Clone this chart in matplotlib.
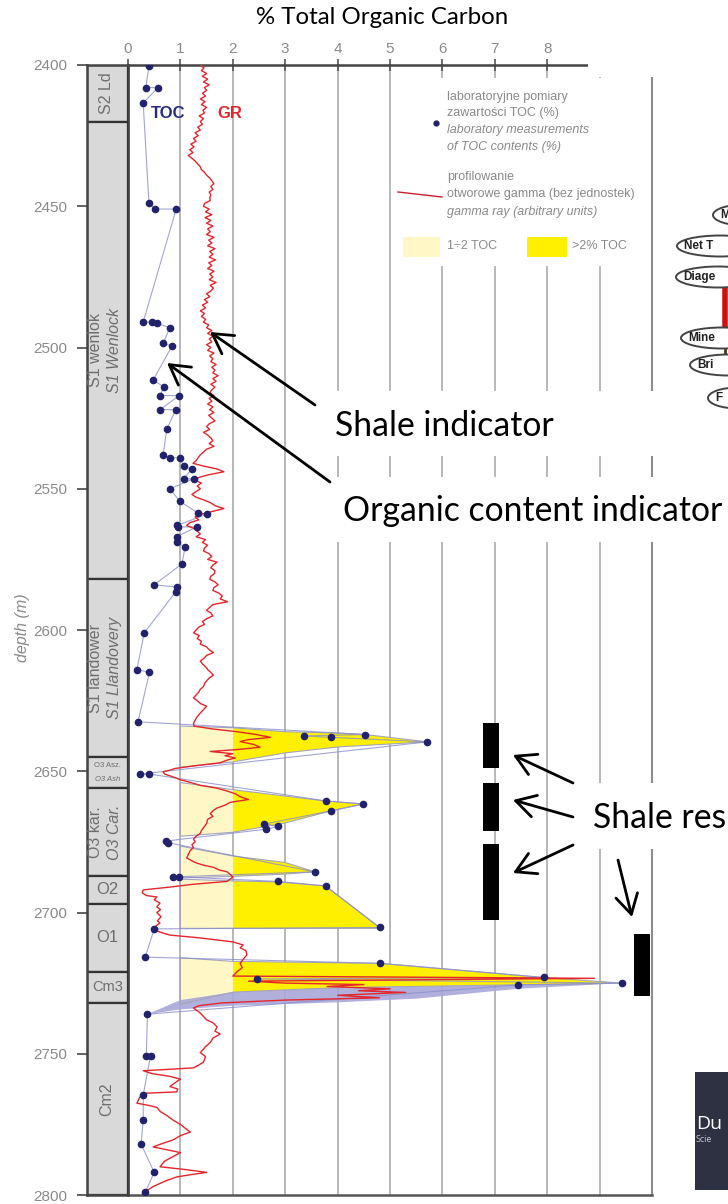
import matplotlib
matplotlib.use("Agg")
import matplotlib.pyplot as plt
from matplotlib.patches import Polygon, Rectangle, Ellipse, FancyArrowPatch
from matplotlib.lines import Line2D

W, H = 728, 1204

# laboratory TOC measurements: depth (m) and TOC (%)
toc_depth = [2400.4, 2408, 2408, 2413.5, 2449, 2451, 2451, 2491, 2491, 2491.4, 2493, 2498.5, 2499.5,
             2511.5, 2514, 2517, 2517, 2522, 2522, 2529, 2538, 2539, 2539, 2542, 2543, 2546.5, 2546.5,
             2550, 2554.5, 2558.6, 2559, 2563, 2563.5, 2563.5, 2567, 2569, 2570.6, 2576.6, 2584, 2584.8,
             2586.5, 2601, 2614, 2615, 2632.5, 2637, 2637.5, 2638, 2639.6, 2651, 2651, 2660.5, 2661.6,
             2664, 2668.7, 2669.5, 2670.5, 2674.7, 2675.3, 2685.6, 2687.4, 2687.4, 2689, 2690.6, 2705.3,
             2705.8, 2715.8, 2718, 2723, 2723.5, 2725, 2725.6, 2736, 2750.8, 2750.8, 2764.6, 2773.5, 2782,
             2792, 2799]
toc_value = [0.40, 0.34, 0.57, 0.29, 0.40, 0.52, 0.92, 0.29, 0.46, 0.55, 0.80, 0.67, 0.84,
             0.48, 0.69, 0.61, 0.98, 0.61, 0.91, 0.74, 0.67, 0.80, 0.99, 1.06, 1.22, 1.06, 1.25,
             0.80, 0.99, 1.34, 1.51, 0.93, 0.96, 1.31, 0.93, 0.93, 1.09, 1.03, 0.50, 0.93,
             0.91, 0.31, 0.17, 0.41, 0.19, 4.53, 3.35, 3.88, 5.71, 0.23, 0.41, 3.77, 4.49,
             3.88, 2.60, 2.87, 2.64, 0.73, 0.77, 3.56, 0.86, 0.98, 2.87, 3.77, 4.80,
             0.50, 0.33, 4.80, 7.93, 2.47, 9.43, 7.44, 0.37, 0.35, 0.43, 0.29, 0.29, 0.25,
             0.50, 0.33]

# gamma ray log (arbitrary units, drawn on the TOC scale): (depth, value)
gr_log = [
    (2400, 1.38), (2401, 1.45), (2402, 1.40), (2403, 1.50), (2404, 1.42), (2405, 1.52), (2406, 1.44),
    (2407, 1.55), (2408, 1.46), (2409, 1.50), (2410, 1.42), (2411, 1.48), (2412, 1.38), (2413, 1.47),
    (2414, 1.40), (2415, 1.50), (2416, 1.43), (2417, 1.46), (2418, 1.36), (2419, 1.44), (2420, 1.38),
    (2421, 1.42), (2422, 1.33), (2423, 1.38), (2424, 1.28), (2425, 1.34), (2426, 1.25), (2427, 1.30),
    (2428, 1.20), (2429, 1.26), (2430, 1.18), (2431, 1.24), (2432, 1.15), (2433, 1.22), (2434, 1.28),
    (2435, 1.33), (2436, 1.38), (2437, 1.40), (2438, 1.46), (2439, 1.50), (2440, 1.56), (2441, 1.60),
    (2442, 1.64), (2443, 1.58), (2444, 1.62), (2445, 1.55), (2446, 1.58), (2447, 1.56), (2448, 1.57),
    (2449, 1.46), (2450, 1.44), (2451, 1.55), (2452, 1.48), (2453, 1.60), (2454, 1.47), (2455, 1.58),
    (2456, 1.50), (2457, 1.62), (2458, 1.52), (2459, 1.57), (2460, 1.50), (2461, 1.64), (2462, 1.54),
    (2463, 1.60), (2464, 1.52), (2465, 1.66), (2466, 1.56), (2467, 1.62), (2468, 1.55), (2469, 1.67),
    (2470, 1.54), (2471, 1.60), (2472, 1.52), (2473, 1.64), (2474, 1.56), (2475, 1.62), (2476, 1.55),
    (2477, 1.68), (2478, 1.57), (2479, 1.63), (2480, 1.58), (2481, 1.50), (2482, 1.56), (2483, 1.46),
    (2484, 1.52), (2485, 1.42), (2486, 1.48), (2487, 1.38), (2488, 1.46), (2489, 1.40), (2490, 1.48),
    (2491, 1.44), (2492, 1.54), (2493, 1.50), (2494, 1.60), (2495, 1.52), (2496, 1.62), (2497, 1.55),
    (2498, 1.60), (2499, 1.50), (2500, 1.58), (2501, 1.52), (2502, 1.64), (2503, 1.56), (2504, 1.62),
    (2505, 1.58), (2506, 1.68), (2507, 1.60), (2508, 1.66), (2509, 1.62), (2510, 1.72), (2511, 1.62),
    (2512, 1.68), (2513, 1.58), (2514, 1.66), (2515, 1.60), (2516, 1.56), (2517, 1.64), (2518, 1.55),
    (2519, 1.60), (2520, 1.52), (2521, 1.62), (2522, 1.56), (2523, 1.64), (2524, 1.54), (2525, 1.60),
    (2526, 1.66), (2527, 1.55), (2528, 1.50), (2529, 1.56), (2530, 1.44), (2531, 1.52), (2532, 1.58),
    (2533, 1.62), (2534, 1.55), (2535, 1.64), (2536, 1.50), (2537, 1.44), (2538, 1.38), (2539, 1.34),
    (2540, 1.30), (2541, 1.24), (2542, 1.45), (2543, 1.70), (2544, 1.83), (2545, 1.55), (2546, 1.35),
    (2547, 1.28), (2548, 1.40), (2549, 1.32), (2550, 1.38), (2551, 1.30), (2552, 1.22), (2553, 1.30),
    (2554, 1.45), (2555, 1.58), (2556, 1.66), (2557, 1.83), (2558, 1.62), (2559, 1.40), (2560, 1.28),
    (2561, 1.35), (2562, 1.18), (2563, 1.12), (2564, 1.25), (2565, 1.32), (2566, 1.38), (2567, 1.30),
    (2568, 1.48), (2569, 1.42), (2570, 1.52), (2571, 1.46), (2572, 1.44), (2573, 1.55), (2574, 1.60),
    (2575, 1.52), (2576, 1.70), (2577, 1.62), (2578, 1.58), (2579, 1.66), (2580, 1.65), (2581, 1.58),
    (2582, 1.56), (2583, 1.66), (2584, 1.72), (2585, 1.64), (2586, 1.62), (2587, 1.74), (2588, 1.80),
    (2589, 1.76), (2590, 1.90), (2591, 1.62), (2592, 1.56), (2593, 1.50), (2594, 1.58), (2595, 1.62),
    (2596, 1.50), (2597, 1.42), (2598, 1.46), (2599, 1.35), (2600, 1.30), (2601, 1.25), (2602, 1.36),
    (2603, 1.32), (2604, 1.40), (2605, 1.38), (2606, 1.50), (2607, 1.55), (2608, 1.63), (2609, 1.50),
    (2610, 1.45), (2611, 1.38), (2612, 1.42), (2613, 1.48), (2614, 1.52), (2615, 1.58), (2616, 1.63),
    (2617, 1.55), (2618, 1.50), (2619, 1.46), (2620, 1.44), (2621, 1.38), (2622, 1.35), (2623, 1.30),
    (2624, 1.25), (2625, 1.32), (2626, 1.38), (2627, 1.50), (2628, 1.45), (2629, 1.40), (2630, 1.35),
    (2631, 1.31), (2632, 1.28), (2633, 1.25), (2634, 1.26),
    (2635, 1.60), (2636, 2.08), (2637, 2.45), (2638, 2.72), (2638.8, 2.30), (2639.5, 2.14),
    (2640.5, 2.40), (2641.5, 2.52), (2642.3, 2.10), (2643, 1.57), (2643.8, 2.00), (2644.5, 1.85),
    (2645.3, 2.05), (2646, 1.90), (2647, 1.76), (2648, 1.30), (2649, 0.90), (2649.6, 0.80),
    (2650.2, 0.67), (2651, 0.70), (2652, 0.86), (2653, 1.00), (2654, 1.20), (2655, 1.38), (2656, 1.70),
    (2657, 1.89), (2658, 2.05), (2659, 2.14), (2660, 2.30), (2661, 1.95), (2662, 1.85), (2663, 1.70),
    (2664, 1.62), (2665, 1.57), (2666, 1.62), (2667, 1.52), (2668.5, 1.50), (2670, 1.44), (2671, 1.40),
    (2672, 1.38), (2673, 1.30), (2674, 1.25), (2675, 1.28), (2676, 1.22), (2677, 1.25), (2678, 1.19),
    (2679.5, 1.15), (2680.7, 1.12), (2682, 1.25), (2682.5, 1.31), (2683.3, 1.45), (2684, 1.63),
    (2685, 1.75), (2685.6, 1.89), (2686.5, 1.95), (2687.4, 2.00), (2688.2, 1.95), (2689, 1.89),
    (2689.6, 1.50), (2690, 1.25), (2691, 0.80), (2692, 0.29), (2693, 0.27), (2694, 0.35), (2694.5, 0.55),
    (2695.5, 0.50), (2696.7, 0.61), (2698, 0.55), (2699, 0.62), (2700, 0.55), (2701.5, 0.63),
    (2703, 0.56), (2703.7, 0.61), (2705, 0.52), (2706, 0.48), (2707, 0.62), (2708, 0.80), (2709, 1.38),
    (2710.4, 2.00), (2711.5, 2.20), (2712.5, 2.14), (2713.5, 2.25), (2715, 2.27), (2716.5, 2.20),
    (2718, 2.14), (2719.5, 2.18), (2721, 2.08), (2722.5, 2.00), (2723.3, 8.90), (2724.3, 2.30),
    (2725, 3.00), (2725.5, 4.50), (2726.2, 3.80), (2727, 5.00), (2727.7, 4.40), (2728.3, 5.30),
    (2729.3, 4.00), (2730.2, 4.80), (2731, 3.00), (2732, 1.80), (2733, 1.35), (2733.8, 1.25),
    (2735.6, 1.38), (2737, 1.45), (2738, 1.50), (2739, 1.62), (2740.5, 1.70), (2742, 1.66),
    (2743, 1.76), (2744.5, 1.62), (2746, 1.57), (2747.5, 1.48), (2749.6, 1.38), (2751, 1.48),
    (2753, 1.44), (2754, 1.35), (2755, 1.25), (2755.6, 0.70), (2756, 0.29), (2757, 0.45), (2758, 0.80),
    (2759, 1.00), (2760, 0.92), (2761.6, 0.80), (2762.5, 0.95), (2763.5, 0.93), (2764, 0.29),
    (2765.5, 0.22), (2767.5, 0.17), (2768.3, 0.40), (2769, 0.55), (2770.5, 0.62), (2772, 0.75),
    (2773.5, 0.86), (2775, 1.00), (2776.5, 1.10), (2777.7, 1.19), (2779, 1.00), (2780.5, 0.86),
    (2782, 0.62), (2783, 0.48), (2784, 0.75), (2785, 1.00), (2786.5, 0.85), (2788, 0.70), (2790, 0.61),
    (2791, 1.10), (2792, 1.50), (2792.8, 1.20), (2793.6, 0.93), (2795, 0.72), (2797, 0.48),
    (2798, 0.40), (2799, 0.29), (2800, 0.27),
]

# TOC-rich intervals, outlines as (TOC, depth)
zone_a = [(1.0, 2634.0), (2.0, 2634.6), (3.0, 2636.0), (4.0, 2636.5), (4.53, 2637.0), (5.71, 2639.6),
          (4.0, 2641.4), (3.0, 2643.5), (2.0, 2646.7), (1.0, 2648.6)]
zone_b = [(1.0, 2654.0), (2.0, 2656.5), (3.0, 2658.8), (3.77, 2660.5), (4.49, 2661.6), (3.88, 2664.0),
          (3.0, 2668.3), (2.0, 2671.6), (1.0, 2673.0)]
zone_c = [(1.0, 2676.5), (2.0, 2680.0), (3.0, 2682.3), (3.56, 2685.6), (3.0, 2686.4), (2.0, 2687.2),
          (1.0, 2687.8)]
zone_d = [(1.0, 2688.2), (2.0, 2688.8), (2.87, 2689.2), (3.77, 2690.6), (4.80, 2705.3), (4.80, 2705.6),
          (1.0, 2705.6)]
zone_e = [(1.0, 2716.0), (2.0, 2717.3), (4.83, 2718.0), (7.93, 2723.0), (9.43, 2725.0), (7.44, 2725.6),
          (4.0, 2726.6), (2.0, 2728.2), (1.0, 2732.5)]
band_e = [(0.37, 2736.0), (1.0, 2731.0), (2.0, 2728.2), (4.0, 2726.6), (7.44, 2725.6), (9.43, 2725.0),
          (7.44, 2727.0), (5.5, 2730.5), (4.0, 2731.8), (2.0, 2733.0), (1.0, 2734.3)]

# stratigraphic column
unit_top = [2400, 2420, 2582, 2645, 2656, 2687, 2697, 2721, 2732]
unit_base = [2420, 2582, 2645, 2656, 2687, 2697, 2721, 2732, 2800]
unit_pl = ["S2 Ld", "S1 wenlok", "S1 landower", "O3 Asz.", "O3 kar.", "O2", "O1", "Cm3", "Cm2"]
unit_en = ["", "S1 Wenlock", "S1 Llandovery", "O3 Ash", "O3 Car.", "", "", "", ""]

# shale reservoir intervals (black bars)
res_top = [2633, 2654, 2675.7, 2707.6]
res_base = [2649, 2671, 2702.6, 2729.6]
res_left = [6.77, 6.77, 6.77, 9.66]

GRAY = "#8a8a8a"
LIGHT_Y = "#fff8c6"
BRIGHT_Y = "#fff000"


def P(x, y):
    # figure pixel (from top left) -> figure fraction
    return (x / W, 1 - y / H)


fig = plt.figure(figsize=(W / 100, H / 100), dpi=100)
fig.patch.set_facecolor("white")

x0, y0 = P(128, 1195)
x1, y1 = P(652, 65)
ax = fig.add_axes([x0, y0, x1 - x0, y1 - y0])
ax.set_xlim(0, 10)
ax.set_ylim(2800, 2400)

cx0, _ = P(87, 0)
axc = fig.add_axes([cx0, y0, x0 - cx0, y1 - y0])
axc.set_xlim(0, 1)
axc.set_ylim(2800, 2400)

# ---- main track ----
for g in range(1, 10):
    ax.axvline(g, color="#b2b2b2", lw=1.3, zorder=1)

clip_light = Rectangle((1, 2400), 1, 400, transform=ax.transData)
clip_bright = Rectangle((2, 2400), 8, 400, transform=ax.transData)
for zone in [zone_a, zone_b, zone_c, zone_d, zone_e]:
    p1 = Polygon(zone, closed=True, facecolor=LIGHT_Y, edgecolor="none", zorder=2)
    ax.add_patch(p1)
    p1.set_clip_path(clip_light)
    p2 = Polygon(zone, closed=True, facecolor=BRIGHT_Y, edgecolor="none", zorder=2.1)
    ax.add_patch(p2)
    p2.set_clip_path(clip_bright)
    ax.add_patch(Polygon(zone, closed=True, facecolor="none", edgecolor="#a4a4bc", lw=0.8, zorder=2.3))
ax.add_patch(Polygon(band_e, closed=True, facecolor="#a9a6d8", edgecolor="none", alpha=0.9, zorder=2.2))

ax.plot(toc_value, toc_depth, color="#8a8fcc", lw=0.8, alpha=0.8, zorder=2.5)

gr_depth = [d for d, v in gr_log]
gr_value = [v for d, v in gr_log]
ax.plot(gr_value, gr_depth, color="#e3262c", lw=1.0, zorder=3)

ax.plot(toc_value, toc_depth, ls="none", marker="o", ms=4.5, color="#22226c", zorder=4)

for top, base, left in zip(res_top, res_base, res_left):
    ax.add_patch(Rectangle((left, top), 0.31, base - top, facecolor="black", edgecolor="none",
                           zorder=5, clip_on=False))

ax.xaxis.tick_top()
ax.set_xticks(range(0, 9))
ax.tick_params(axis="x", direction="inout", length=9, width=1.2, color="#555555",
               labelcolor=GRAY, labelsize=11, pad=2)
ax.set_yticks([])
for t in ax.get_xticklabels():
    t.set_fontfamily("Liberation Sans")
ax.spines["top"].set_bounds(0, 8.8)
ax.spines["top"].set_color("#444444")
ax.spines["top"].set_linewidth(1.8)
ax.spines["left"].set_color("#444444")
ax.spines["left"].set_linewidth(2)
ax.spines["bottom"].set_color("#555555")
ax.spines["bottom"].set_linewidth(1.8)
ax.spines["right"].set_color("#8c8c8c")
ax.spines["right"].set_linewidth(1.5)
ax.spines["right"].set_bounds(2404.6, 2800)

ax.text(0.76, 2417, "TOC", color="#2a2a86", fontsize=12, fontweight="bold",
        ha="center", va="center", family="Liberation Sans", zorder=6)
ax.text(1.95, 2417, "GR", color="#e3262c", fontsize=12, fontweight="bold",
        ha="center", va="center", family="Liberation Sans", zorder=6)

# ---- stratigraphic column ----
for top, base in zip(unit_top, unit_base):
    axc.axhspan(top, base, facecolor="#d9d9d9", edgecolor="#333333", lw=1.6)
lab = dict(color="#6e6e6e", family="Liberation Sans", ha="center", va="center")
for top, base, pl, en in zip(unit_top, unit_base, unit_pl, unit_en):
    mid = (top + base) / 2
    if pl in ("O2", "O1"):
        axc.text(0.5, mid, pl, fontsize=12, **lab)
    elif pl == "Cm3":
        axc.text(0.5, mid, pl, fontsize=10.5, **lab)
    elif pl == "O3 Asz.":
        axc.text(0.5, mid - 2.4, pl, fontsize=5.5, **lab)
        axc.text(0.5, mid + 2.4, en, fontsize=5.5, style="italic", **lab)
    elif en:
        axc.text(0.2, mid, pl, fontsize=11.5, rotation=90, **lab)
        axc.text(0.66, mid, en, fontsize=11.5, rotation=90, style="italic", **lab)
    else:
        axc.text(0.48, mid, pl, fontsize=11.5, rotation=90, **lab)

axc.set_xticks([])
axc.set_yticks(range(2400, 2801, 50))
axc.tick_params(axis="y", length=7, width=1.3, color="#555555", labelcolor=GRAY,
                labelsize=11, pad=7)
for t in axc.get_yticklabels():
    t.set_fontfamily("Liberation Sans")
for side in ["left", "top", "bottom"]:
    axc.spines[side].set_color("#444444")
    axc.spines[side].set_linewidth(1.8)
axc.spines["right"].set_visible(False)

fig.text(*P(23, 628), "depth (m)", rotation=90, style="italic", color=GRAY, fontsize=11.5,
         family="Liberation Sans", ha="center", va="center")

# ---- title ----
fig.text(*P(382, 18), "% Total Organic Carbon", fontsize=17.3, family="Lato",
         ha="center", va="center", color="black")

# white patches over the crop edges and the legend area
fig.add_artist(Rectangle(P(588, 77), 140 / W, 77 / H, transform=fig.transFigure,
                         facecolor="white", edgecolor="none", zorder=1))
fig.add_artist(Rectangle(P(396, 266), 254 / W, 188 / H, transform=fig.transFigure,
                         facecolor="white", edgecolor="none", zorder=1))

# ---- legend ----
leg = dict(color=GRAY, fontsize=9, family="Liberation Sans", va="center", ha="left", zorder=3)
fig.add_artist(Line2D([P(436, 123)[0]], [P(436, 123)[1]], marker="o", ms=3.5, color="#22226c",
                      transform=fig.transFigure, zorder=3))
fig.text(*P(447, 97), "laboratoryjne pomiary", **leg)
fig.text(*P(447, 113), "zawartości TOC (%)", **leg)
fig.text(*P(447, 130), "laboratory measurements", style="italic", **leg)
fig.text(*P(447, 147), "of TOC contents (%)", style="italic", **leg)
la, lb = P(398, 192), P(442, 197)
fig.add_artist(Line2D([la[0], lb[0]], [la[1], lb[1]], color="#c8202a", lw=1.0,
                      transform=fig.transFigure, zorder=3))
fig.text(*P(447, 177), "profilowanie", **leg)
fig.text(*P(447, 194), "otworowe gamma (bez jednostek)", **leg)
fig.text(*P(447, 212), "gamma ray (arbitrary units)", style="italic", **leg)
fig.add_artist(Rectangle(P(403, 257), 37 / W, 20 / H, transform=fig.transFigure,
                         facecolor=LIGHT_Y, edgecolor="none", zorder=3))
fig.add_artist(Rectangle(P(527, 257), 40 / W, 20 / H, transform=fig.transFigure,
                         facecolor=BRIGHT_Y, edgecolor="none", zorder=3))
fig.text(*P(447, 246), "1÷2 TOC", **leg)
fig.text(*P(572, 246), ">2% TOC", **leg)

# ---- annotations ----
for bx, by, bw, bh in [(330, 456, 398, 65), (333, 542, 395, 65), (575, 849, 153, 66)]:
    fig.add_artist(Rectangle(P(bx, by), bw / W, bh / H, transform=fig.transFigure,
                             facecolor="white", edgecolor="none", zorder=2))
note = dict(fontsize=24.3, family="Lato", color="black", ha="left", va="baseline", zorder=4)
fig.text(*P(335, 436), "Shale indicator", **note)
fig.text(*P(343, 521), "Organic content indicator", **note)
fig.text(*P(593, 828), "Shale res", **note)

arrows = [((315, 405), (210, 332)), ((330, 482), (167, 363)),
          ((573, 783), (513, 755)), ((573, 817), (513, 800)),
          ((573, 845), (513, 873)), ((618, 860), (632, 917))]
for tail, head in arrows:
    fig.add_artist(FancyArrowPatch(P(*tail), P(*head), transform=fig.transFigure,
                                   arrowstyle="->,head_length=0.7,head_width=0.4",
                                   mutation_scale=20, lw=2, color="black",
                                   shrinkA=0, shrinkB=0, zorder=5))

# ---- cropped neighbouring diagram ----
for (ex, ey, ew), name in zip([(745, 215, 64), (720, 246, 86), (718, 277, 84), (722, 338, 82),
                               (728, 365, 76), (738, 398, 60)],
                              ["M", "Net T", "Diage", "Mine", "Bri", "F"]):
    fig.add_artist(Ellipse(P(ex, ey), ew / W, 21 / H, transform=fig.transFigure,
                           facecolor="white", edgecolor="#444444", lw=1.4, zorder=3))
    fig.text(*P(ex - ew / 2 + 7, ey), name, fontsize=8.5, fontweight="bold", color="#222222",
             family="Liberation Sans", ha="left", va="center", zorder=4)
ra, rb = P(725, 289), P(725, 327)
fig.add_artist(Line2D([ra[0], rb[0]], [ra[1], rb[1]], color="#cc1111", lw=4,
                      transform=fig.transFigure, zorder=2))
ra, rb = P(725, 349), P(725, 355)
fig.add_artist(Line2D([ra[0], rb[0]], [ra[1], rb[1]], color="#553311", lw=2,
                      transform=fig.transFigure, zorder=2))

fig.add_artist(Rectangle(P(695, 1190), 33 / W, 118 / H, transform=fig.transFigure,
                         facecolor="#2d3142", edgecolor="none", zorder=2))
fig.text(*P(696, 1124), "Du", fontsize=14, color="white", family="Open Sans",
         ha="left", va="center", zorder=3)
fig.text(*P(696, 1140), "Scie", fontsize=6.5, color="#c8c8d0", family="Open Sans",
         ha="left", va="center", zorder=3)

fig.savefig("out.png", dpi=100)
